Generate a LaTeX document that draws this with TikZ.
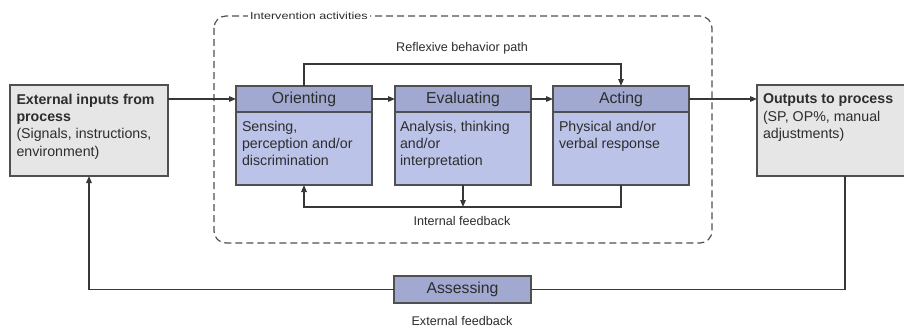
\documentclass[tikz,border=0pt]{standalone}
\usepackage{fontspec}
\setmainfont{Liberation Sans}
\usetikzlibrary{arrows.meta,calc}

\definecolor{hdrfill}{RGB}{161,169,209}
\definecolor{bodyfill}{RGB}{187,195,232}
\definecolor{greyfill}{RGB}{230,230,230}
\definecolor{edge}{RGB}{80,80,80}
\definecolor{wire}{RGB}{55,55,55}
\definecolor{ink}{RGB}{45,45,45}

\tikzset{
  x=1pt, y=-1pt,
  every node/.style={text=ink, inner sep=0pt, outer sep=0pt},
  boxbase/.style={draw=edge, line width=1.5pt, anchor=north west},
  hdr/.style={boxbase, fill=hdrfill, minimum width=136pt, minimum height=26pt,
    font=\fontsize{15.8}{18}\selectfont},
  bodybox/.style={boxbase, fill=bodyfill, minimum width=136pt, minimum height=73pt},
  bodytext/.style={anchor=north west, align=left,
    font=\fontsize{14.2}{17.3}\selectfont},
  greybox/.style={boxbase, fill=greyfill, minimum width=158pt, minimum height=91pt},
  tag/.style={font=\fontsize{12.6}{15}\selectfont},
  link/.style={draw=wire, line width=1.2pt},
  flow/.style={link, -{Triangle[length=7pt,width=5.5pt]}},
}

\begin{document}
\begin{tikzpicture}
\useasboundingbox (0,0) rectangle (904,329);
\clip (0,0) rectangle (904,329);
\fill[white] (0,0) rectangle (904,329);

% intervention frame, its title sits in a gap of the dashed outline
\draw[edge, line width=1.2pt, dash pattern=on 7pt off 4pt, rounded corners=12pt]
  (214,16) rectangle (712,243);
\node[tag, fill=white, inner xsep=2pt, inner ysep=1pt, anchor=west] (frame) at (248,16)
  {\scalebox{1}[0.8]{Intervention activities}};

% three stages
\node[hdr] (oh) at (236,86) {Orienting};
\node[bodybox] (ob) at (236,112) {};
\node[bodytext] (obt) at (242,121) {Sensing,\\perception and/or\\discrimination};

\node[hdr] (eh) at (395,86) {Evaluating};
\node[bodybox] (eb) at (395,112) {};
\node[bodytext] (ebt) at (400,121) {Analysis, thinking\\and/or\\interpretation};

\node[hdr] (ah) at (553,86) {Acting};
\node[bodybox] (ab) at (553,112) {};
\node[bodytext] (abt) at (559,121) {Physical and/or\\verbal response};

% process side boxes
\node[greybox] (lb) at (10,85) {};
\node[bodytext] (lbt) at (16.5,94) {\textbf{External inputs from}\\\textbf{process}\\(Signals, instructions,\\environment)};

\node[greybox] (rb) at (757,85) {};
\node[bodytext] (rbt) at (763,94) {\textbf{Outputs to process}\\(SP, OP\%, manual\\adjustments)};

\node[boxbase, fill=hdrfill, minimum width=137pt, minimum height=27pt,
  font=\fontsize{15.8}{18}\selectfont] (as) at (394,276) {Assessing};

% forward path
\draw[flow] (lb.east |- oh.west) -- (oh.west);
\draw[flow] (oh.east) -- (eh.west);
\draw[flow] (eh.east) -- (ah.west);
\draw[flow] (ah.east) -- (ah.east -| rb.west);

% reflexive path
\coordinate (rfl) at ($(oh.north)+(0,-22)$);
\draw[flow] (oh.north) -- (rfl) -| (ah.north);
\node[tag] (rfltag) at (462,48) {Reflexive behavior path};

% internal feedback
\coordinate (ifb) at ($(ab.south)+(0,22)$);
\draw[flow] (ab.south) -- (ifb) -| (ob.south);
\draw[flow] (eb.south) -- (eb.south |- ifb);
\node[tag] (ifbtag) at (462,221) {Internal feedback};

% external feedback
\coordinate (rdrop) at ($(rb.south)+(9,0)$);
\draw[link] (rdrop) -- (rdrop |- as.east) -- (as.east);
\draw[flow] (as.west) -- (as.west -| lb.south) -- (lb.south);
\node[tag] (efbtag) at (462,321) {External feedback};
\end{tikzpicture}
\end{document}
